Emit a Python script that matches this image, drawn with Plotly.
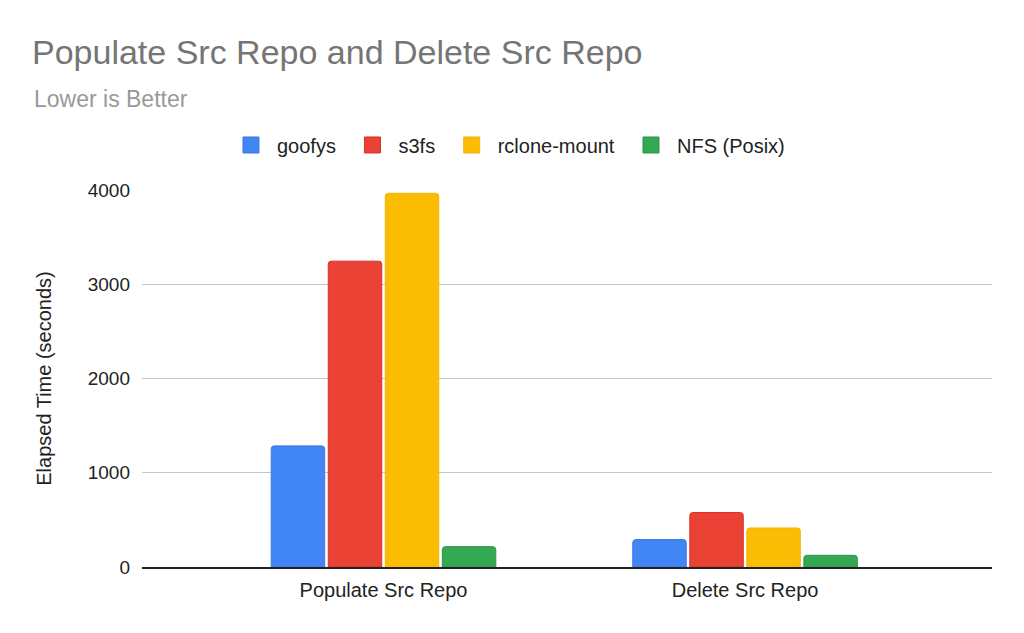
import plotly.graph_objects as go

# data
categories = ["Populate Src Repo", "Delete Src Repo"]
series_names = ["goofys", "s3fs", "rclone-mount", "NFS (Posix)"]
goofys = [1285, 291]
s3fs = [3245, 578]
rclone_mount = [3965, 414]
nfs_posix = [216, 124]
y_ticks = [0, 1000, 2000, 3000, 4000]

colors = ["#4285f4", "#ea4335", "#fbbc04", "#34a853"]
edges = ["#3b78e7", "#d93025", "#f4b400", "#2e9548"]
FONT = "Liberation Sans, Arial, sans-serif"

fig = go.Figure()
for name, vals, c, e in zip(series_names, [goofys, s3fs, rclone_mount, nfs_posix], colors, edges):
    fig.add_trace(go.Bar(x=categories, y=vals, name=name, showlegend=False,
                         marker=dict(color=c, line=dict(color=e, width=1), cornerradius=3)))
    # legend-only square swatch, bigger than the default bar swatch
    fig.add_trace(go.Scatter(x=[None], y=[None], mode="markers", name=name + "\u00a0",
                             marker=dict(symbol="square", size=19, color=c, line=dict(color=e, width=1))))

fig.update_layout(
    width=1008, height=617,
    paper_bgcolor="white", plot_bgcolor="white",
    font=dict(family=FONT, color="#222222"),
    title=dict(text="Populate Src Repo and Delete Src Repo",
               xref="container", x=0.0238, xanchor="left",
               yref="container", y=0.9287, yanchor="middle",
               font=dict(size=34, color="#757575", family=FONT)),
    barmode="group", bargap=0.369, bargroupgap=0.0625,
    legend=dict(orientation="h", x=0.4335, xanchor="center",
                y=1.1194, yanchor="middle", itemwidth=42,
                font=dict(size=20, color="#222222", family=FONT), traceorder="normal"),
    margin=dict(l=134, r=24, t=182, b=58, autoexpand=False),
    annotations=[dict(text="Lower is Better", xref="paper", yref="paper",
                      x=-0.1294, y=1.2427, xanchor="left", yanchor="middle",
                      showarrow=False, font=dict(size=23, color="#999999", family=FONT))],
)
fig.update_yaxes(range=[0, 4000], tickvals=y_ticks, showgrid=True, gridcolor="#c4c4c4",
                 zeroline=False, ticks="", ticklabelstandoff=11,
                 tickfont=dict(size=19, color="#222222"),
                 title=dict(text="Elapsed Time (seconds)", font=dict(size=20, color="#222222"), standoff=30))
fig.update_xaxes(range=[-0.668, 1.683], showline=True, linecolor="#222222", linewidth=1.5,
                 ticks="", ticklabelstandoff=4, tickangle=0, tickfont=dict(size=20, color="#222222"))

fig.write_html("out.html")
